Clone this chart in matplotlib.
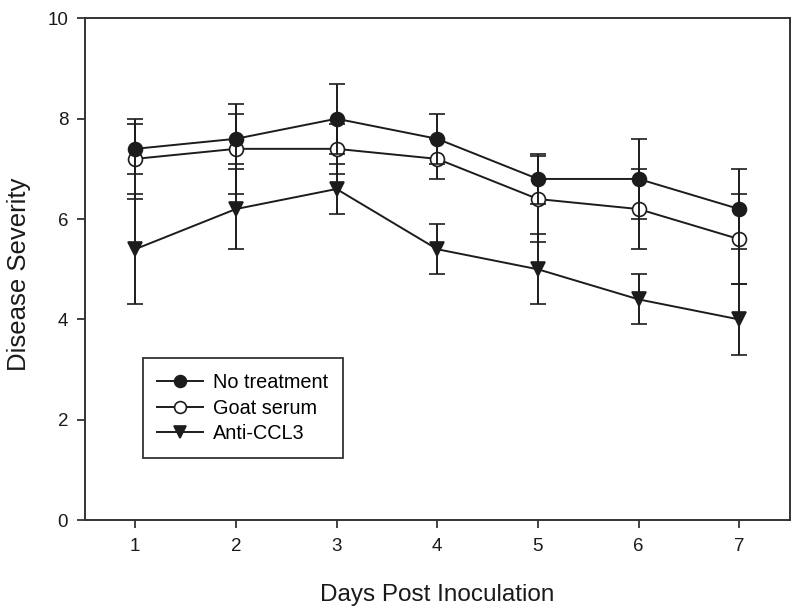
import matplotlib.pyplot as plt
import numpy as np

plt.rcParams['font.family'] = ['Liberation Sans', 'DejaVu Sans']

# data
days = [1, 2, 3, 4, 5, 6, 7]
no_treatment = [7.4, 7.6, 8.0, 7.6, 6.8, 6.8, 6.2]
no_treatment_err = [0.5, 0.5, 0.7, 0.5, 0.5, 0.8, 0.8]
goat_serum = [7.2, 7.4, 7.4, 7.2, 6.4, 6.2, 5.6]
goat_serum_err = [0.8, 0.9, 0.5, 0.4, 0.85, 0.8, 0.9]
anti_ccl3 = [5.4, 6.2, 6.6, 5.4, 5.0, 4.4, 4.0]
anti_ccl3_err = [1.1, 0.8, 0.5, 0.5, 0.7, 0.5, 0.7]

ink = '#1c1c1c'
axcol = '#333333'

fig = plt.figure(figsize=(8, 6.12), dpi=100)
ax = fig.add_axes([0.106, 0.150, 0.881, 0.820])

common = dict(color=ink, ecolor=ink, elinewidth=1.4, capsize=5.5, capthick=1.4,
              linewidth=1.4, markersize=10, markeredgewidth=1.2, markeredgecolor=ink)

ax.errorbar(days, anti_ccl3, yerr=anti_ccl3_err, marker='v', markerfacecolor=ink,
            label='Anti-CCL3', zorder=3, **common)
ax.errorbar(days, goat_serum, yerr=goat_serum_err, marker='o', markerfacecolor='white',
            label='Goat serum', zorder=4, **common)
ax.errorbar(days, no_treatment, yerr=no_treatment_err, marker='o', markerfacecolor=ink,
            label='No treatment', zorder=5, **common)

ax.set_xlim(0.5, 7.5)
ax.set_ylim(0, 10)
ax.set_xticks(days)
ax.set_yticks([0, 2, 4, 6, 8, 10])
ax.tick_params(direction='out', length=6, width=1.3, colors=axcol, labelcolor='#1a1a1a',
               labelsize=13.5, top=False, right=False)
ax.tick_params(axis='x', pad=7)
ax.tick_params(axis='y', pad=6)
for s in ax.spines.values():
    s.set_color(axcol)
    s.set_linewidth(1.4)

ax.set_xlabel('Days Post Inoculation', fontsize=17.5, color='#1a1a1a', labelpad=20.5)
ax.set_ylabel('Disease Severity', fontsize=18.5, color='#1a1a1a', labelpad=12)
ax.yaxis.label.set_y(0.49)

h, l = ax.get_legend_handles_labels()
order = [2, 1, 0]
handles = [h[i][0] for i in order]
leg = ax.legend(handles, [l[i] for i in order], loc='lower left',
                bbox_to_anchor=(0.082, 0.124), fontsize=14.3, fancybox=False,
                edgecolor=axcol, framealpha=1, handlelength=2.3, borderpad=0.75,
                labelspacing=0.32, handletextpad=0.5, borderaxespad=0,
                markerscale=0.85)
leg.get_frame().set_linewidth(1.3)

fig.savefig('out.png', dpi=100)
